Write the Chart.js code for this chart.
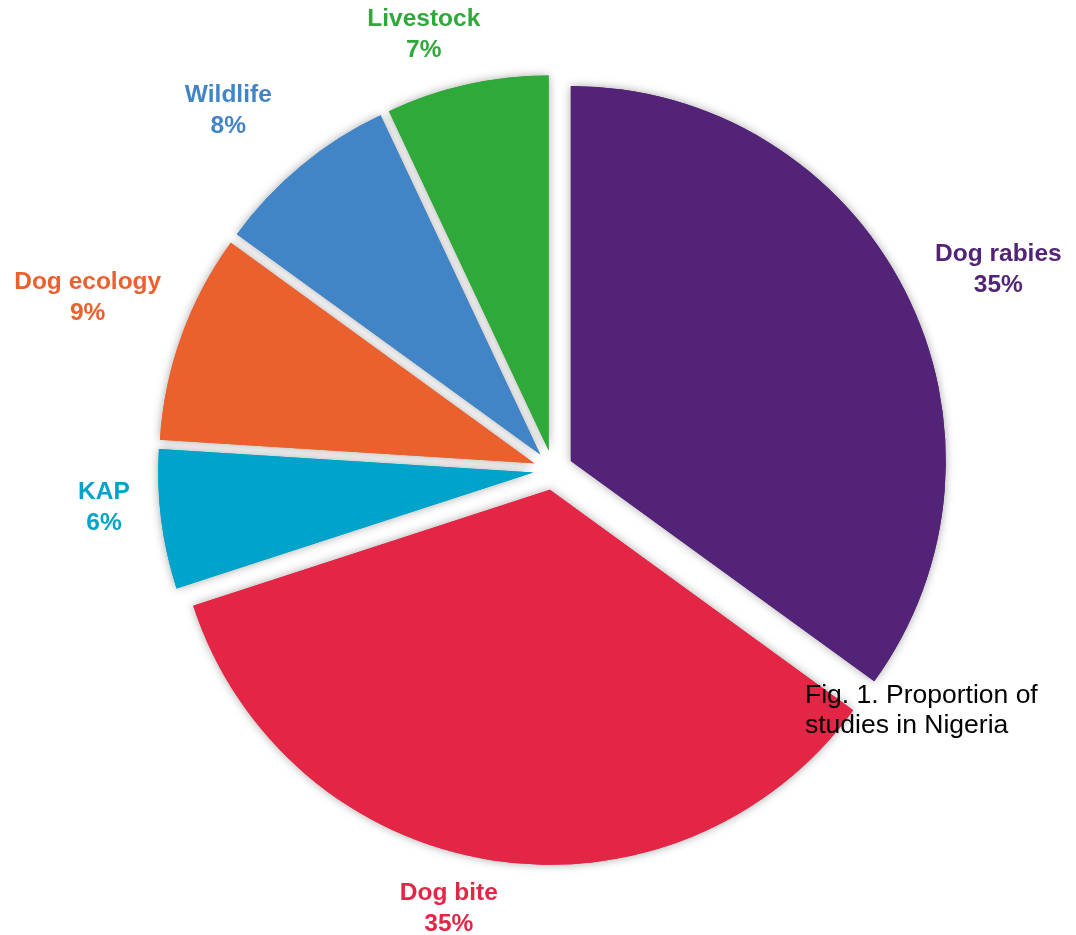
<!DOCTYPE html>
<html>
<head>
<meta charset="utf-8">
<script src="https://cdn.jsdelivr.net/npm/chart.js@4.4.1/dist/chart.umd.min.js"></script>
<style>
  html, body { margin: 0; padding: 0; background: #fff; }
  #wrap { width: 1076px; height: 935px; position: relative; }
</style>
</head>
<body>
<div id="wrap"><canvas id="studyPie"></canvas></div>
<script>
const categories = ['Dog rabies', 'Dog bite', 'KAP', 'Dog ecology', 'Wildlife', 'Livestock'];
const shares = [35, 35, 6, 9, 8, 7];
const sliceColors = ['#522376', '#E32645', '#00A3C9', '#EB612E', '#4185C6', '#2FA939'];

const EXPLODE = 20;
const LABEL_FONT = 'bold 24.5px "Liberation Sans", Arial, sans-serif';
// small hand tweaks so the labels sit where the original figure has them
const labelNudge = [[11, 21], [-33, -11], [-6, -18], [2, -4], [-26, 2], [-29, 13]];

function midAngle(arc) {
  return (arc.startAngle + arc.endAngle) / 2;
}

// every slice pulled out a bit, with a soft grey shadow behind
const explodedPie = {
  id: 'explodedPie',
  beforeDatasetsDraw(chart) {
    const ctx = chart.ctx;
    const arcs = chart.getDatasetMeta(0).data;
    const drawAll = () => arcs.forEach(arc => {
      const a = midAngle(arc);
      ctx.save();
      ctx.translate(Math.cos(a) * EXPLODE, Math.sin(a) * EXPLODE);
      arc.draw(ctx);
      ctx.restore();
    });
    ctx.save();
    ctx.shadowColor = 'rgba(0,0,0,0.35)';
    ctx.shadowBlur = 10;
    drawAll();
    ctx.restore();
    drawAll();
    return false;
  },
  afterDraw(chart) {
    const ctx = chart.ctx;
    const arcs = chart.getDatasetMeta(0).data;
    ctx.save();
    ctx.font = LABEL_FONT;
    ctx.textAlign = 'center';
    ctx.textBaseline = 'middle';
    arcs.forEach((arc, i) => {
      const a = midAngle(arc);
      const ux = Math.cos(a), uy = Math.sin(a);
      const lines = [categories[i], shares[i] + '%'];
      const w = Math.max(...lines.map(t => ctx.measureText(t).width));
      const h = 62;
      const dist = arc.outerRadius + EXPLODE + 22 + Math.abs(ux) * w / 2 + Math.abs(uy) * h / 2;
      const x = arc.x + ux * dist + labelNudge[i][0];
      const y = arc.y + uy * dist + labelNudge[i][1];
      ctx.fillStyle = sliceColors[i];
      ctx.fillText(lines[0], x, y - 15.5);
      ctx.fillText(lines[1], x, y + 15.5);
    });

    ctx.font = '26.5px "Liberation Sans", Arial, sans-serif';
    ctx.fillStyle = '#000';
    ctx.textAlign = 'left';
    ctx.textBaseline = 'alphabetic';
    ctx.fillText('Fig. 1. Proportion of', 805, 703);
    ctx.fillText('studies in Nigeria', 805, 733);
    ctx.restore();
  }
};

const chart = new Chart(document.getElementById('studyPie').getContext('2d'), {
  type: 'pie',
  data: {
    labels: categories,
    datasets: [{
      data: shares,
      backgroundColor: sliceColors,
      borderWidth: 0
    }]
  },
  options: {
    responsive: true,
    maintainAspectRatio: false,
    animation: false,
    events: [],
    radius: 375,
    layout: { padding: { left: 30, top: 5, right: 0, bottom: 0 } },
    plugins: {
      legend: { display: false },
      tooltip: { enabled: false }
    }
  },
  plugins: [explodedPie]
});
</script>
</body>
</html>
